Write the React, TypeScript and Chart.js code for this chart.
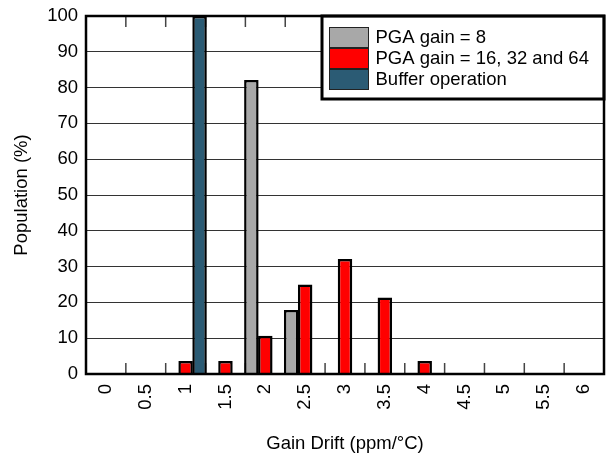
import React, { useEffect, useRef } from "react";
import { Chart, registerables } from "chart.js";

Chart.register(...registerables);

const categories = ["0", "0.5", "1", "1.5", "2", "2.5", "3", "3.5", "4", "4.5", "5", "5.5", "6"];
const pga8 = [null, null, null, null, 82.1, 17.9, null, null, null, null, null, null, null];
const pga16to64 = [null, null, 3.6, 3.6, 10.7, 25, 32.1, 21.4, 3.6, null, null, null, null];
const bufferOp = [null, null, 100, null, null, null, null, null, null, null, null, null, null];
const seriesNames = ["PGA gain = 8", "PGA gain = 16, 32 and 64", "Buffer operation"];
const seriesColors = ["#A8A8A8", "#FF0000", "#2B5B74"];

const FONT = "'Liberation Sans', Arial, sans-serif";
const FS = 18.5;

const decorPlugin = {
  id: "decor",
  beforeDatasetsDraw(chart: any) {
    const { ctx, chartArea } = chart;
    const n = categories.length;
    const w = (chartArea.right - chartArea.left) / n;
    ctx.save();
    ctx.strokeStyle = "#444";
    ctx.lineWidth = 1.5;
    for (let k = 1; k < n; k++) {
      const x = chartArea.left + k * w;
      ctx.beginPath();
      ctx.moveTo(x, chartArea.bottom);
      ctx.lineTo(x, chartArea.bottom - 11);
      ctx.moveTo(x, chartArea.top);
      ctx.lineTo(x, chartArea.top + 11);
      ctx.stroke();
    }
    ctx.restore();
  },
  afterDatasetsDraw(chart: any) {
    const { ctx, chartArea } = chart;
    const bx = 322;
    const by = chartArea.top;
    const bw = chartArea.right - bx;
    const bh = 83;
    ctx.save();
    ctx.fillStyle = "#fff";
    ctx.fillRect(bx, by, bw, bh);
    ctx.strokeStyle = "#000";
    ctx.lineWidth = 3;
    ctx.strokeRect(bx, by, bw, bh);
    const rowH = 21;
    const sx = 329;
    const sy = 27;
    ctx.font = `${FS}px ${FONT}`;
    ctx.textBaseline = "middle";
    ctx.textAlign = "left";
    for (let i = 0; i < seriesNames.length; i++) {
      ctx.fillStyle = seriesColors[i];
      ctx.fillRect(sx, sy + i * rowH, 40, rowH);
      ctx.strokeStyle = "#222";
      ctx.lineWidth = 1;
      ctx.strokeRect(sx + 0.5, sy + i * rowH + 0.5, 39, rowH - 1);
      ctx.fillStyle = "#000";
      ctx.fillText(seriesNames[i], 375.5, sy + i * rowH + rowH / 2);
    }
    ctx.restore();
  },
  afterDraw(chart: any) {
    const { ctx, chartArea } = chart;
    ctx.save();
    ctx.strokeStyle = "#000";
    ctx.lineWidth = 2.5;
    ctx.strokeRect(chartArea.left, chartArea.top, chartArea.right - chartArea.left, chartArea.bottom - chartArea.top);
    ctx.restore();
  },
};

export default function App() {
  const ref = useRef<HTMLCanvasElement | null>(null);
  useEffect(() => {
    if (!ref.current) return;
    const chart = new Chart(ref.current, {
      type: "bar",
      data: {
        labels: categories,
        datasets: [
          { label: seriesNames[0], data: pga8, backgroundColor: seriesColors[0], borderColor: "#000", borderWidth: 2.5 },
          { label: seriesNames[1], data: pga16to64, backgroundColor: seriesColors[1], borderColor: "#000", borderWidth: 2.5 },
          { label: seriesNames[2], data: bufferOp, backgroundColor: seriesColors[2], borderColor: "#000", borderWidth: 2.5 },
        ] as any,
      },
      options: {
        responsive: false,
        animation: false,
        devicePixelRatio: 1,
        layout: { padding: { left: 7, right: 3, top: 16, bottom: 5 } },
        datasets: { bar: { categoryPercentage: 1.05, barPercentage: 1.04 } },
        plugins: { legend: { display: false }, tooltip: { enabled: false } },
        scales: {
          x: {
            grid: { display: false, drawTicks: false },
            border: { display: false },
            ticks: {
              autoSkip: false,
              minRotation: 90,
              maxRotation: 90,
              padding: 10,
              color: "#000",
              font: { family: FONT, size: FS },
            },
            title: {
              display: true,
              text: "Gain Drift (ppm/°C)",
              color: "#000",
              font: { family: FONT, size: FS },
              padding: { top: 0, bottom: 0 },
            },
            afterFit(scale: any) {
              scale.height = 81;
              scale.paddingLeft = 0;
              scale.paddingRight = 0;
            },
          },
          y: {
            min: 0,
            max: 100,
            grid: { color: "#333", lineWidth: 1, drawTicks: false },
            border: { display: false },
            ticks: {
              stepSize: 10,
              padding: 8,
              color: "#000",
              font: { family: FONT, size: FS },
            },
            title: {
              display: true,
              text: "Population (%)",
              color: "#000",
              font: { family: FONT, size: FS },
              padding: { top: 4, bottom: 0 },
            },
            afterFit(scale: any) {
              scale.width = 79;
              scale.paddingTop = 0;
              scale.paddingBottom = 0;
            },
          },
        },
      },
      plugins: [decorPlugin],
    } as any);
    return () => chart.destroy();
  }, []);
  return (
    <canvas
      ref={ref}
      width={607}
      height={460}
      style={{ position: "fixed", left: 0, top: 0, width: 607, height: 460, display: "block" }}
    />
  );
}
